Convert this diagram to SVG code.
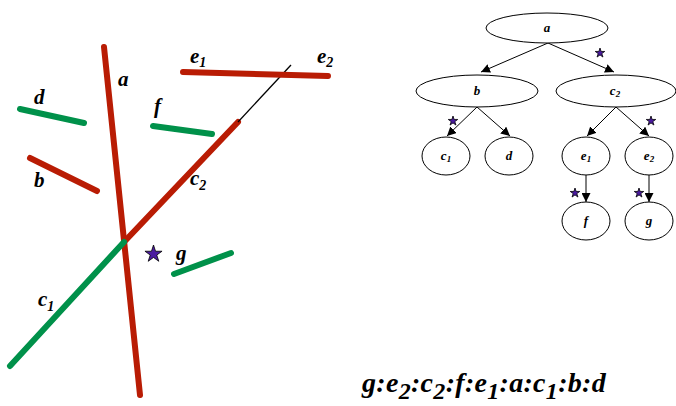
<svg xmlns="http://www.w3.org/2000/svg" width="676" height="406" viewBox="0 0 676 406">
<style>
.red{stroke:#b91c04;stroke-width:6;stroke-linecap:round;fill:none}
.grn{stroke:#00914a;stroke-width:6;stroke-linecap:round;fill:none}
.lbl{font-family:'Liberation Serif','DejaVu Serif',serif;font-weight:bold;font-style:italic;fill:#000}
.big{font-size:21px}
.sub{font-size:14px}
.node ellipse{fill:#fff;stroke:#000;stroke-width:1}
.tl{font-family:'Liberation Serif','DejaVu Serif',serif;font-weight:bold;font-style:italic;font-size:13px;text-anchor:middle}
.ts{font-size:9px}
.edge{stroke:#000;stroke-width:1;fill:none;marker-end:url(#arr)}
.star{fill:#4a1aa0;stroke:#000;stroke-width:0.8}
</style>
<defs>
<marker id="arr" viewBox="0 0 10 10" refX="10" refY="5" markerWidth="9" markerHeight="9" markerUnits="userSpaceOnUse" orient="auto">
<path d="M0,0 L10,5 L0,10 Z" fill="#000"/>
</marker>
<path id="sstar" d="M0,-5 L1.12,-1.55 L4.76,-1.55 L1.82,0.59 L2.94,4.05 L0,1.91 L-2.94,4.05 L-1.82,0.59 L-4.76,-1.55 L-1.12,-1.55Z"/>
</defs>

<g id="segments">
<line id="seg-a" class="red" x1="104" y1="47" x2="140" y2="395"/>
<line id="seg-c2" class="red" x1="238" y1="122" x2="124" y2="242"/>
<line id="seg-ext" x1="238" y1="122" x2="291" y2="65" stroke="#000" stroke-width="1.3"/>
<line id="seg-c1" class="grn" x1="124" y1="242" x2="10" y2="366"/>
<line id="seg-e" class="red" x1="183" y1="72" x2="328" y2="76"/>
<line id="seg-d" class="grn" x1="20" y1="109" x2="84" y2="123"/>
<line id="seg-f" class="grn" x1="153" y1="126" x2="212" y2="134"/>
<line id="seg-b" class="red" x1="30" y1="158" x2="97" y2="191"/>
<line id="seg-g" class="grn" x1="174" y1="274" x2="231" y2="253"/>
<path class="star" transform="translate(153.5,254)" d="M0,-9 L2.02,-2.78 L8.56,-2.78 L3.27,1.06 L5.29,7.28 L0,3.44 L-5.29,7.28 L-3.27,1.06 L-8.56,-2.78 L-2.02,-2.78Z"/>
</g>

<g id="seg-labels" class="lbl">
<text class="big" x="190" y="63">e<tspan class="sub" dy="4">1</tspan></text>
<text class="big" x="317" y="63">e<tspan class="sub" dy="4">2</tspan></text>
<text class="big" x="118" y="86">a</text>
<text class="big" x="34" y="104">d</text>
<text class="big" x="154" y="113">f</text>
<text class="big" x="34" y="187">b</text>
<text class="big" x="190" y="185">c<tspan class="sub" dy="5">2</tspan></text>
<text class="big" x="176" y="260">g</text>
<text class="big" x="38" y="306">c<tspan class="sub" dy="5">1</tspan></text>
</g>

<g id="connectors">
<line class="edge" x1="548" y1="43" x2="481" y2="72"/>
<line class="edge" x1="548" y1="43" x2="614" y2="72"/>
<line class="edge" x1="477" y1="107" x2="447" y2="136"/>
<line class="edge" x1="477" y1="107" x2="510" y2="136"/>
<line class="edge" x1="616" y1="107" x2="587" y2="136"/>
<line class="edge" x1="616" y1="107" x2="649" y2="136"/>
<line class="edge" x1="586" y1="175" x2="586" y2="202"/>
<line class="edge" x1="649" y1="175" x2="649" y2="202"/>
<use href="#sstar" class="star" x="600" y="53"/>
<use href="#sstar" class="star" x="453" y="121"/>
<use href="#sstar" class="star" x="651" y="121"/>
<use href="#sstar" class="star" x="575" y="193"/>
<use href="#sstar" class="star" x="639" y="193"/>
</g>

<g id="node-a" class="node"><ellipse cx="547" cy="28" rx="61" ry="15"/><text class="tl" x="547" y="32">a</text></g>
<g id="node-b" class="node"><ellipse cx="477" cy="91" rx="61" ry="16"/><text class="tl" x="477" y="95">b</text></g>
<g id="node-c2" class="node"><ellipse cx="616" cy="91" rx="60" ry="16"/><text class="tl" x="615" y="95">c<tspan class="ts" dy="2">2</tspan></text></g>
<g id="node-c1" class="node"><ellipse cx="446" cy="156" rx="24" ry="19"/><text class="tl" x="446" y="160">c<tspan class="ts" dy="2">1</tspan></text></g>
<g id="node-d" class="node"><ellipse cx="509" cy="156" rx="24" ry="19"/><text class="tl" x="509" y="160">d</text></g>
<g id="node-e1" class="node"><ellipse cx="586" cy="156" rx="24" ry="19"/><text class="tl" x="586" y="160">e<tspan class="ts" dy="2">1</tspan></text></g>
<g id="node-e2" class="node"><ellipse cx="649" cy="156" rx="24" ry="19"/><text class="tl" x="649" y="160">e<tspan class="ts" dy="2">2</tspan></text></g>
<g id="node-f" class="node"><ellipse cx="586" cy="221" rx="24" ry="19"/><text class="tl" x="586" y="225">f</text></g>
<g id="node-g" class="node"><ellipse cx="649" cy="221" rx="24" ry="19"/><text class="tl" x="649" y="225">g</text></g>

<text class="lbl" x="362" y="392" font-size="28" letter-spacing="0.3">g:e<tspan font-size="24" dy="7">2</tspan><tspan dy="-7">:c</tspan><tspan font-size="24" dy="7">2</tspan><tspan dy="-7">:f:e</tspan><tspan font-size="24" dy="7">1</tspan><tspan dy="-7">:a:c</tspan><tspan font-size="24" dy="7">1</tspan><tspan dy="-7">:b:d</tspan></text>
</svg>
